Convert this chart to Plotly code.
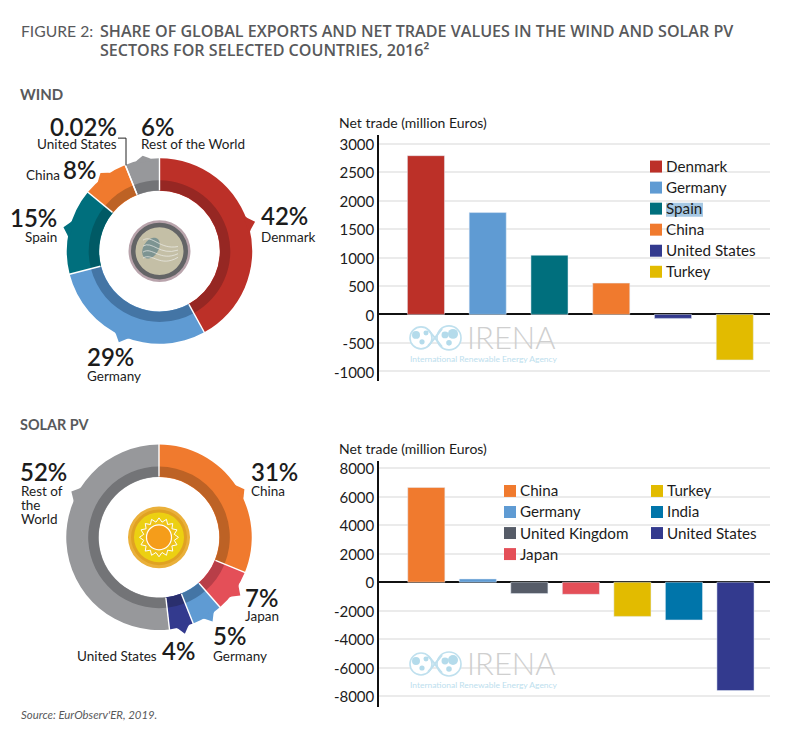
import math
import plotly.graph_objects as go

W, H = 799, 729

# ---------- data ----------
wind_share_names = ["Denmark", "Germany", "Spain", "China", "United States", "Rest of the World"]
wind_share_values = [42, 29, 15, 8, 0.02, 6]
solar_share_names = ["China", "Japan", "Germany", "United States", "Rest of the World"]
solar_share_values = [31.2, 7.4, 5.4, 4.2, 51.8]

wind_trade_names = ["Denmark", "Germany", "Spain", "China", "United States", "Turkey"]
wind_trade_values = [2790, 1790, 1040, 550, -70, -800]
solar_trade_names = ["China", "Germany", "United Kingdom", "Japan", "Turkey", "India", "United States"]
solar_trade_values = [6650, 230, -800, -850, -2400, -2650, -7600]

wind_ticks = [3000, 2500, 2000, 1500, 1000, 500, 0, -500, -1000]
solar_ticks = [8000, 6000, 4000, 2000, 0, -2000, -4000, -6000, -8000]

# ---------- styles ----------
LIGHT = {"Denmark": "#bc3028", "Germany": "#5f9bd3", "Spain": "#006f7d", "China": "#f07a2e",
         "United States": "#333a8e", "Rest of the World": "#97989b", "Turkey": "#e2bb00",
         "India": "#0075aa", "United Kingdom": "#565c68", "Japan": "#e44f58"}
DARK = {"Denmark": "#962723", "Germany": "#4475a5", "Spain": "#005a65", "China": "#bd6225",
        "United States": "#2a2f6e", "Rest of the World": "#737477", "Japan": "#b83e48"}
FONT = "Lato"
INK = "#1c1c1c"
GREY = "#58595b"
SHIFT = 1.2


def X(p):
    return p / W


def Y(p):
    return 1 - (p - SHIFT) / H


shapes, annos = [], []


def text(x, y, s, size=13.5, color=INK, anchor="left", weight=None, family=FONT, style=None):
    f = dict(family=family, size=size, color=color)
    if weight:
        f["weight"] = weight
    if style:
        f["style"] = style
    nudge = 1.4 if size > 20 else 0.5
    annos.append(dict(x=X(x), y=Y(y - nudge), xref="paper", yref="paper", text=s, showarrow=False, xanchor=anchor,
                      yanchor="middle", align=anchor, font=f, borderpad=0, borderwidth=0))


def circle(cx, cy, r, fill, line=None, lw=0):
    shapes.append(dict(type="circle", xref="paper", yref="paper", x0=X(cx - r), x1=X(cx + r),
                       y0=Y(cy + r), y1=Y(cy - r), fillcolor=fill,
                       line=dict(color=line or fill, width=lw)))


def rect(x0, y0, x1, y1, fill, layer="above"):
    shapes.append(dict(type="rect", xref="paper", yref="paper", x0=X(x0), x1=X(x1), y0=Y(y1), y1=Y(y0),
                       fillcolor=fill, line=dict(width=0), layer=layer))


def path(pts, fill=None, line=None, lw=1, close=True):
    d = "M" + " L".join(f"{X(a):.5f},{Y(b):.5f}" for a, b in pts) + (" Z" if close else "")
    shapes.append(dict(type="path", xref="paper", yref="paper", path=d,
                       fillcolor=fill if fill else "rgba(0,0,0,0)",
                       line=dict(color=line or "rgba(0,0,0,0)", width=lw if line else 0)))


def curve(d_pts, line, lw=1):
    (a, b, c, e) = d_pts
    d = (f"M{X(a[0]):.5f},{Y(a[1]):.5f} C{X(b[0]):.5f},{Y(b[1]):.5f} "
         f"{X(c[0]):.5f},{Y(c[1]):.5f} {X(e[0]):.5f},{Y(e[1]):.5f}")
    shapes.append(dict(type="path", xref="paper", yref="paper", path=d, line=dict(color=line, width=lw)))


def polar(cx, cy, r, a):
    t = math.radians(a)
    return cx + r * math.sin(t), cy - r * math.cos(t)


def tip(cx, cy, a, r, color, half=6.5):
    path([polar(cx, cy, 91, a - half), polar(cx, cy, 94, a - half * 0.55), polar(cx, cy, r, a),
          polar(cx, cy, 94, a + half * 0.55), polar(cx, cy, 91, a + half)], fill=color)


fig = go.Figure()


def donut(cx, cy, names, values):
    for r, hole, pal in ((93, 0.65, LIGHT), (71, 0.855, DARK)):
        colors = [pal[n] for n in names]
        fig.add_trace(go.Pie(
            labels=names, values=values, sort=False, direction="clockwise", rotation=0, hole=hole,
            textinfo="none", showlegend=False, hoverinfo="label+percent",
            marker=dict(colors=colors, line=dict(color=colors, width=0)),
            domain=dict(x=[X(cx - r), X(cx + r)], y=[Y(cy + r), Y(cy - r)]),
        ))


def separators(cx, cy, values):
    total = sum(values)
    acc = 0
    for v in values:
        a = acc / total * 360
        path([polar(cx, cy, 61, a), polar(cx, cy, 94, a)], line="#ffffff", lw=1.4, close=False)
        acc += v


def bars(names, values, ax, ay, width):
    fig.add_trace(go.Bar(x=names, y=values, xaxis=ax, yaxis=ay, width=width,
                         marker=dict(color=[LIGHT[n] for n in names]), showlegend=False))


WCX, WCY = 159.5, 251
SCX, SCY = 159, 538
donut(WCX, WCY, wind_share_names, wind_share_values)
donut(SCX, SCY, solar_share_names, solar_share_values)

bars(wind_trade_names, wind_trade_values, "x", "y", 0.6)
bars(solar_trade_names, solar_trade_values, "x2", "y2", 0.72)

# ---------- callout tips ----------
for a, r, n in ((72.9, 100, "Denmark"), (204, 100, "Germany"), (284, 99, "Spain"), (323, 98, "China"),
                (350, 97, "Rest of the World")):
    tip(WCX, WCY, a, r, LIGHT[n])
for a, r, n in ((60.6, 98, "China"), (297.7, 99, "Rest of the World"), (125.6, 100, "Japan"),
                (147.6, 100, "Germany"), (165, 100, "United States")):
    tip(SCX, SCY, a, r, LIGHT[n], half=5.5 if n in ("United States", "Germany") else 6.5)

separators(WCX, WCY, wind_share_values)
separators(SCX, SCY, solar_share_values)

# ---------- wind icon ----------
circle(WCX, WCY, 31, "#b9a4ac")
circle(WCX, WCY, 28.5, "#636466")
circle(WCX, WCY, 24, "#c4bfa6")
blob = []
rot = math.radians(32)
for t in range(24):
    u = t / 24 * 2 * math.pi
    ex, ey = 7.5 * math.cos(u), 11.5 * math.sin(u)
    blob.append((151 + ex * math.cos(rot) - ey * math.sin(rot), 248 + ex * math.sin(rot) + ey * math.cos(rot)))
path(blob, fill="#7d9492")
for dy in (-6, 0, 6, 12):
    curve([(143, 246 + dy), (152, 240 + dy), (160, 256 + dy), (178, 250 + dy * 0.6)], "#eeeeea", 0.7)

# ---------- sun icon ----------
circle(SCX, SCY, 31, "#eab03a")
circle(SCX, SCY, 28, "#e0a222")
circle(SCX, SCY, 25, "#ecd012")
star = []
for i in range(32):
    star.append(polar(SCX, SCY, 19.5 if i % 2 == 0 else 15.5, i * 360 / 32))
path(star, fill="#efc21a", line="#ffffff", lw=1)
circle(SCX, SCY, 12.5, "#f59d1a", line="#ffffff", lw=1.2)

# ---------- gridline masks ----------
rect(638, 155, 762, 278, "#ffffff", layer="between")
rect(403, 325, 560, 366, "#ffffff", layer="between")
rect(495, 480, 762, 543, "#ffffff", layer="between")
rect(495, 543, 570, 566, "#ffffff", layer="between")
rect(403, 650, 560, 692, "#ffffff", layer="between")


# ---------- IRENA watermark ----------
def irena(y):
    circle(421, y, 11, "#ffffff", line="#bfe0ee", lw=1.6)
    circle(449, y, 12, "#ffffff", line="#bfe0ee", lw=1.6)
    curve([(428, y - 8), (433, y - 3), (437, y + 3), (442, y + 9)], "#bfe0ee", 2)
    curve([(428, y + 8), (433, y + 3), (437, y - 3), (442, y - 9)], "#bfe0ee", 2)
    for cx, cy, r in ((416, y - 3, 4), (422, y + 4, 2.6), (426, y - 5, 2.5), (445, y - 3, 3.5), (453, y - 4, 5), (449, y + 5, 2.8)):
        circle(cx, cy, r, "#b4dbeb")
    text(467, y + 0.5, "IRENA", size=31, color="#cfcfcf", family="Lato", weight=300)
    text(410, y + 21.5, "International Renewable Energy Agency", size=8.45, color="#bde0ee")


irena(338)
irena(665)

# ---------- legends ----------
rect(666, 202.5, 703, 216.5, "#a6c8e3")


def legend(x, y, names):
    for i, n in enumerate(names):
        yy = y + i * 21.1
        rect(x, yy - 6, x + 12, yy + 6, LIGHT[n])
        text(x + 16, yy, n, size=15.2)


legend(650, 166.2, wind_trade_names)
legend(504, 491.5, solar_trade_names[:4])
legend(651, 491.5, solar_trade_names[4:])

# ---------- text ----------
text(21, 31, "FIGURE 2:", size=15.7, color=GREY)
text(100, 30.5, "SHARE OF GLOBAL EXPORTS AND NET TRADE VALUES IN THE WIND AND SOLAR PV", size=16.1, color=GREY, weight=600, family="Open Sans")
text(100, 49.5, "SECTORS FOR SELECTED COUNTRIES, 2016²", size=16.1, color=GREY, weight=600, family="Open Sans")
text(20, 93.5, "WIND", size=15, color=GREY, weight=700)
text(20, 425.5, "SOLAR PV", size=14.4, color=GREY, weight=700)
text(339, 122.5, "Net trade (million Euros)", size=14)
text(339, 449.5, "Net trade (million Euros)", size=14)
text(21, 716, "Source: EurObserv'ER, 2019.", size=11.4, color=GREY, style="italic")

BIG = dict(size=24, weight=600)
text(117, 127, "0.02%", anchor="right", **BIG)
text(117, 144, "United States", anchor="right")
text(141, 127, "6%", **BIG)
text(141, 144, "Rest of the World")
text(26, 175, "China")
text(63, 171, "8%", **BIG)
text(57, 219, "15%", anchor="right", **BIG)
text(57, 237, "Spain", anchor="right")
text(261, 217, "42%", **BIG)
text(261, 237, "Denmark")
text(87, 358, "29%", **BIG)
text(87, 377, "Germany")
text(20, 473, "52%", **BIG)
text(21, 492, "Rest of")
text(21, 506, "the")
text(21, 520, "World")
text(251, 473, "31%", **BIG)
text(251, 492, "China")
text(245, 600, "7%", **BIG)
text(245, 617, "Japan")
text(213, 638, "5%", **BIG)
text(213, 657, "Germany")
text(77, 657, "United States")
text(162, 653, "4%", **BIG)

# leader line for the United States wind share
path([(118, 137.7), (126, 137.7), (126, 165)], line="#222222", lw=1, close=False)


def yaxis(ticks, top_val, bottom_val, y0, y1, anchor):
    return dict(domain=[Y(y1), Y(y0)], range=[bottom_val, top_val], tickmode="array", tickvals=ticks,
                ticktext=[str(t) for t in ticks], showline=True, linecolor="#111111", linewidth=1.5,
                showgrid=True, gridcolor="#ebebeb", gridwidth=1.5, zeroline=True, zerolinecolor="#111111",
                zerolinewidth=1.5, ticks="", ticklabelshift=1, anchor=anchor,
                tickfont=dict(family=FONT, size=15, color=INK))


def xaxis(lo, hi, anchor):
    return dict(domain=[X(379), X(770)], range=[lo, hi], type="category", showticklabels=False, showgrid=False,
                showline=False, zeroline=False, ticks="", anchor=anchor)


fig.update_layout(
    width=W, height=H, margin=dict(l=0, r=0, t=0, b=0), paper_bgcolor="#ffffff", plot_bgcolor="rgba(0,0,0,0)",
    font=dict(family=FONT, color=INK), showlegend=False, bargap=0.4,
    xaxis=xaxis(-0.76, 5.57, "y"),
    yaxis=yaxis(wind_ticks, 3146, -1175, 135, 381.5, "x"),
    xaxis2=xaxis(-0.918, 6.67, "y2"),
    yaxis2=yaxis(solar_ticks, 8491, -8770, 461.7, 708.3, "x2"),
    shapes=shapes, annotations=annos,
)

fig.write_html("out.html", config=dict(displayModeBar=False),
               post_script="document.body.style.margin='0';document.body.style.overflow='hidden';")
